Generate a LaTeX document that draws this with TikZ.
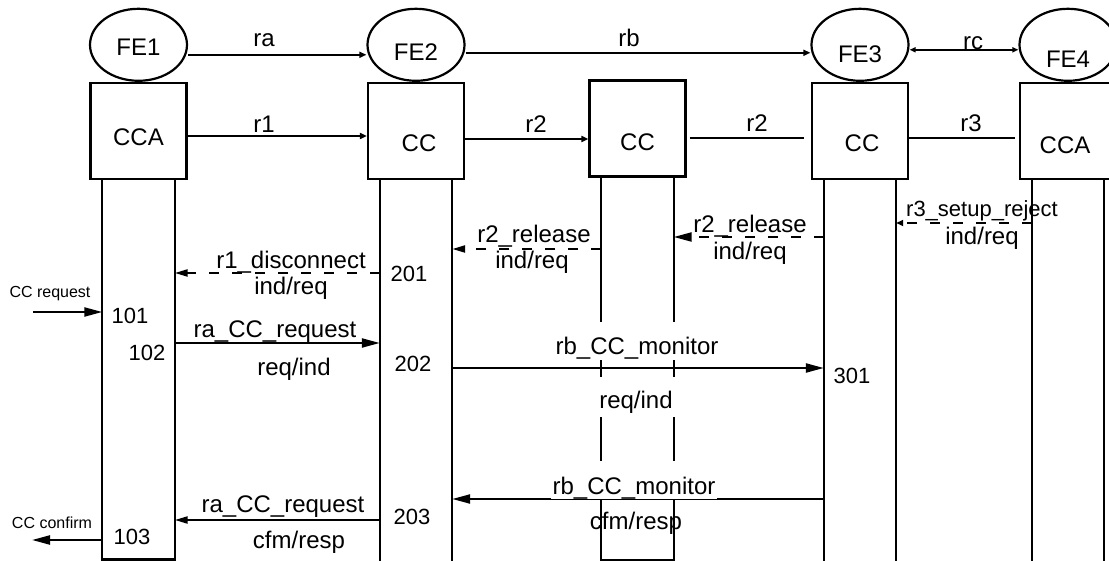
\documentclass[tikz,border=0pt]{standalone}
\usepackage{fontspec}
\setmainfont{Liberation Sans}
\usetikzlibrary{arrows.meta,shapes.geometric,positioning}

\begin{document}
\begin{tikzpicture}[x=1pt, y=-1pt,
    fe/.style={draw, ellipse, line width=2.2pt, minimum width=97pt, minimum height=72pt, inner sep=0pt},
    blk/.style={draw, line width=2.2pt, minimum size=96pt, inner sep=0pt},
    life/.style={minimum width=72pt, inner sep=0pt},
    txt/.style={font=\fontsize{24}{28}\selectfont, inner sep=0pt},
    txtn/.style={font=\fontsize{22}{26}\selectfont, inner sep=0pt},
    num/.style={font=\fontsize{22}{26}\selectfont, inner sep=0pt},
    note/.style={font=\fontsize{16}{19}\selectfont, inner sep=0pt},
    cover/.style={txt, fill=white, inner xsep=2pt, inner ysep=0pt, text height=33pt, text depth=5pt, anchor=base},
    msg/.style={line width=2.2pt},
    dsh/.style={msg, dash pattern=on 10pt off 13pt},
    tipS/.style={-{Triangle[length=7pt,width=6pt]}},
    tipSS/.style={{Triangle[length=6pt,width=5pt]}-{Triangle[length=6pt,width=5pt]}},
    tipM/.style={-{Triangle[length=13pt,width=7pt]}},
    tipL/.style={-{Triangle[length=18pt,width=9pt]}}
]
\useasboundingbox (0,0) rectangle (1109,561);
\clip (0,0) rectangle (1109,561);

% blocks and entities
\node[blk, label={[txt, yshift=-6pt]center:CCA}] (cca1) at (138.5,131) {};
\node[blk, label={[txt, xshift=3pt, yshift=-12pt]center:CC}] (cc2) at (416,131) {};
\node[blk, label={[txt, yshift=-14pt]center:CC}] (cc3) at (637.5,128.5) {};
\node[blk, label={[txt, xshift=2pt, yshift=-12pt]center:CC}] (cc4) at (860,131) {};
\node[blk, label={[txt, xshift=-3pt, yshift=-14pt]center:CCA}] (cca5) at (1068,131) {};

\node[fe, above=0pt of cca1, label={[txt, yshift=-2pt]center:FE1}] (fe1) {};
\node[fe, above=0pt of cc2, label={[txt, yshift=-7pt]center:FE2}] (fe2) {};
\node[fe, above=0pt of cc4, label={[txt, yshift=-9pt]center:FE3}] (fe3) {};
\node[fe, above=0pt of cca5, label={[txt, yshift=-14pt]center:FE4}] (fe4) {};

% lifelines
\node[life, minimum height=379pt, below=0pt of cca1] (l1) {};
\node[life, minimum height=390pt, below=0pt of cc2] (l2) {};
\node[life, minimum height=382pt, below=0pt of cc3] (l3) {};
\node[life, minimum height=390pt, below=0pt of cc4] (l4) {};
\node[life, minimum height=390pt, below=0pt of cca5] (l5) {};

\draw[msg] (l1.north west) -- (l1.south west) -- (l1.south east) -- (l1.north east);
\draw[msg] (l3.north west) -- (l3.south west) -- (l3.south east) -- (l3.north east);
\draw[msg] (l2.north west) -- (l2.south west) (l2.north east) -- (l2.south east);
\draw[msg] (l4.north west) -- (l4.south west) (l4.north east) -- (l4.south east);
\draw[msg] (l5.north west) -- (l5.south west) (l5.north east) -- (l5.south east);

% relations
\draw[msg, tipS] ([yshift=-10pt]fe1.east) -- ([yshift=-10pt]fe2.west);
\draw[msg, tipS] ([yshift=-8pt]fe2.east) -- ([yshift=-8pt]fe3.west);
\draw[msg, tipSS] ([yshift=-5pt]fe3.east) -- ([yshift=-5pt]fe4.west);
\draw[msg, tipS] ([yshift=-5pt]cca1.east) -- ([yshift=-5pt]cc2.west);
\draw[msg, tipS] ([yshift=-8pt]cc2.east) -- ([yshift=-10.5pt]cc3.west);
\draw[msg, shorten <=3pt, shorten >=7pt] ([yshift=-9.5pt]cc3.east) -- ([yshift=-7pt]cc4.west);
\draw[msg, shorten >=4pt] ([yshift=-7pt]cc4.east) -- ([yshift=-7pt]cca5.west);

\node[txt, anchor=base] (lra) at (264,47) {ra};
\node[txt, anchor=base] (lrb) at (629,47) {rb};
\node[txt, anchor=base] (lrc) at (973,50) {rc};
\node[txt, anchor=base] (lr1) at (264,133) {r1};
\node[txt, anchor=base] (lr2a) at (536,133) {r2};
\node[txt, anchor=base] (lr2b) at (757,132) {r2};
\node[txt, anchor=base] (lr3) at (971,132) {r3};

% message rows
\coordinate (yrej) at (0,223);
\coordinate (yrelR) at (0,237);
\coordinate (yrelL) at (0,249);
\coordinate (ydisc) at (0,273);
\coordinate (yreq) at (0,312);
\coordinate (yraq) at (0,343);
\coordinate (ymon) at (0,368);
\coordinate (ymonb) at (0,499);
\coordinate (yraqb) at (0,520);
\coordinate (ycfm) at (0,540);
\coordinate (ccin) at (33,312);
\coordinate (ccout) at (32,540);

\draw[dsh, tipS] (l5.west |- yrej) -- (l4.east |- yrej);
\draw[dsh, tipL] (l4.west |- yrelR) -- (l3.east |- yrelR);
\draw[dsh, tipM] (l3.west |- yrelL) -- (l2.east |- yrelL);
\draw[dsh, tipM] (l2.west |- ydisc) -- (l1.east |- ydisc);
\draw[msg, tipL] (ccin) -- (l1.west |- yreq);
\draw[msg, tipL] (l1.east |- yraq) -- (l2.west |- yraq);
\draw[msg, tipL] (l2.east |- ymon) -- (l4.west |- ymon);
\draw[msg, tipL] (l4.west |- ymonb) -- (l2.east |- ymonb);
\draw[msg, tipM] (l2.west |- yraqb) -- (l1.east |- yraqb);
\draw[msg, tipL] (l1.west |- ycfm) -- (ccout);

% message labels
\node[txtn, anchor=base] (mrej) at (982,217) {r3\_setup\_reject};
\node[txt] (mrejb) at (982,238) {ind/req};
\node[txt, anchor=base] (mrelR) at (750,233) {r2\_release};
\node[txt] (mrelRb) at (750,253) {ind/req};
\node[txt, anchor=base] (mrelL) at (534,243) {r2\_release};
\node[txt] (mrelLb) at (532,262) {ind/req};
\node[txt, anchor=base] (mdisc) at (291,269) {r1\_disconnect};
\node[txt] (mdiscb) at (291,288) {ind/req};
\node[note] (mccin) at (50,294) {CC request};
\node[txt, anchor=base] (mraq) at (275,338) {ra\_CC\_request};
\node[txt] (mraqb) at (294,369) {req/ind};
\node[cover] (mmon) at (637,355) {rb\_CC\_monitor};
\node[cover, text height=32pt, text depth=8pt] (mmonm) at (636,409) {req/ind};
\node[cover] (mmonb) at (634,494) {rb\_CC\_monitor};
\node[txt] (mmonbb) at (636,523) {cfm/resp};
\node[txt, anchor=base] (mraqr) at (283,512) {ra\_CC\_request};
\node[txt] (mraqrb) at (299,542) {cfm/resp};
\node[note] (mccout) at (52,523) {CC confirm};

% event numbers
\node[num] (n101) at (130,316) {101};
\node[num] (n102) at (147,353) {102};
\node[num] (n103) at (132,537) {103};
\node[num] (n201) at (409,274) {201};
\node[num] (n202) at (413,364) {202};
\node[num] (n203) at (412,517) {203};
\node[num] (n301) at (852,376) {301};
\end{tikzpicture}
\end{document}
